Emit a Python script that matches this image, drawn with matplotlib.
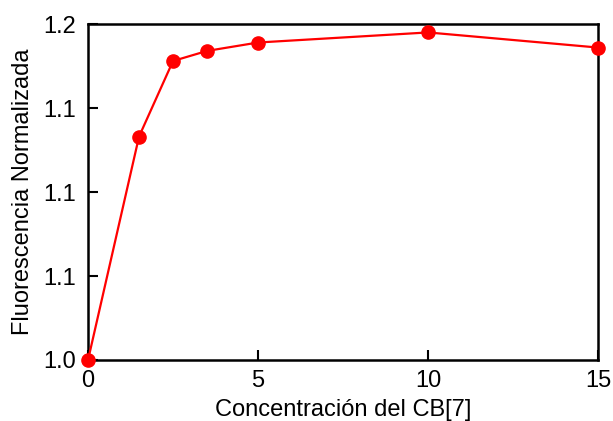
import matplotlib
matplotlib.use("Agg")
import matplotlib.pyplot as plt
from matplotlib.ticker import FormatStrFormatter

plt.rcParams['font.family'] = ['Liberation Sans', 'DejaVu Sans']

# Concentracion del CB[7] vs fluorescencia normalizada
concentracion = [0, 1.5, 2.5, 3.5, 5, 10, 15]
fluorescencia = [1.000, 1.133, 1.178, 1.184, 1.189, 1.195, 1.186]

x_ticks = [0, 5, 10, 15]
y_ticks = [1.00, 1.05, 1.10, 1.15, 1.20]

fig = plt.figure(figsize=(6.13, 4.21), dpi=100)
ax = fig.add_axes([0.1436, 0.1449, 0.832, 0.798])

ax.plot(concentracion, fluorescencia, color='#ff0000', lw=1.6,
        marker='o', markersize=9.5, clip_on=False, zorder=3)

ax.set_xlim(0, 15)
ax.set_ylim(1.0, 1.2)
ax.set_xticks(x_ticks)
ax.set_yticks(y_ticks)
ax.yaxis.set_major_formatter(FormatStrFormatter('%.1f'))

for s in ax.spines.values():
    s.set_linewidth(1.8)
ax.tick_params(direction='in', length=7, width=1.5, labelsize=17)
ax.tick_params(axis='x', pad=7)
ax.tick_params(axis='y', pad=9)

ax.set_xlabel('Concentración del CB[7]', fontsize=17, labelpad=5)
ax.set_ylabel('Fluorescencia Normalizada', fontsize=17, labelpad=6)

fig.savefig('out.png', dpi=100)
